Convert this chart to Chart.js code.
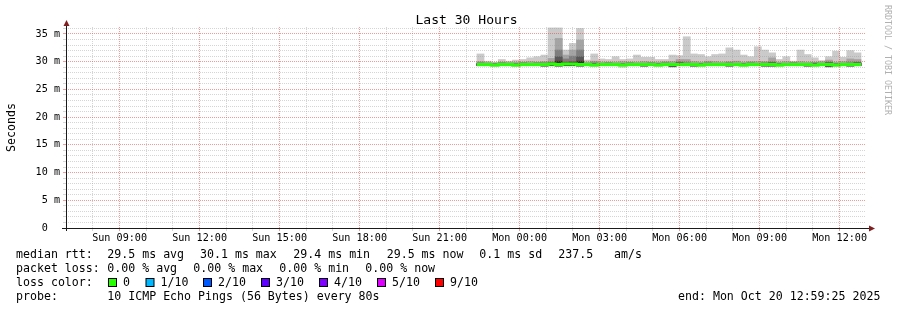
<!DOCTYPE html>
<html><head><meta charset="utf-8">
<style>html,body{margin:0;padding:0;background:#fff;}#wrap{width:897px;height:310px;position:relative;}</style>
<script src="https://cdn.jsdelivr.net/npm/chart.js@4.4.1/dist/chart.umd.min.js"></script>
</head><body><div id="wrap"><canvas id="c" width="897" height="310"></canvas></div>
<script>
// ---- time axis (hours since Sun 00:00) ----
const START_HOUR = 6.990278;   // Sun 06:59:25
const END_HOUR = 36.990278;    // Mon 12:59:25
const FIRST_BUCKET = 22.40;    // first sample bucket start
const BUCKET_HOURS = 0.2667;   // 16 min consolidation step

const xTickHours = [9, 12, 15, 18, 21, 24, 27, 30, 33, 36];
const xTickLabels = ['Sun 09:00','Sun 12:00','Sun 15:00','Sun 18:00','Sun 21:00','Mon 00:00','Mon 03:00','Mon 06:00','Mon 09:00','Mon 12:00'];
const yTickValues = [0, 5, 10, 15, 20, 25, 30, 35];
const yTickLabels = ['0  ','5 m','10 m','15 m','20 m','25 m','30 m','35 m'];

// ---- series (milliseconds) ----
const median = [29.5,29.5,29.4,29.5,29.5,29.4,29.5,29.5,29.5,29.5,
 29.6,29.5,29.6,29.6,29.5,29.5,29.4,29.5,29.5,29.5,
 29.4,29.5,29.5,29.5,29.5,29.4,29.5,29.5,29.5,29.5,
 29.5,29.4,29.5,29.5,29.5,29.5,29.5,29.4,29.5,29.5,
 29.5,29.5,29.4,29.5,29.5,29.5,29.5,29.4,29.5,29.5,
 29.4,29.5,29.5,29.5];
const pingMax = [31.4,30.1,29.9,30.4,30.1,30.3,30.4,30.7,30.9,31.2,
 36.1,36.1,32.1,33.3,36.0,30.3,31.4,30.5,30.4,30.9,
 30.4,30.5,31.2,30.8,30.8,30.4,30.4,31.2,31.1,34.5,
 31.4,31.3,30.9,31.3,31.4,32.5,32.1,31.2,30.9,32.7,
 32.1,31.6,30.4,30.9,30.1,32.1,31.3,30.7,30.2,30.9,
 31.9,30.8,32.0,31.6];
const ping9 = [30.0,29.9,29.8,29.9,29.9,29.9,29.9,30.0,29.9,30.0,
 30.6,34.2,31.2,32.1,33.9,29.9,30.1,29.9,29.9,29.9,
 30.0,29.9,29.9,30.0,29.9,29.9,30.0,30.0,30.4,30.4,
 30.0,29.9,30.1,30.0,29.9,30.0,30.1,29.9,30.0,30.0,
 30.0,30.7,29.9,30.0,29.9,30.0,29.9,29.9,30.0,30.3,
 29.9,30.0,30.5,30.4];
const ping8 = [29.8,29.7,29.7,29.8,29.7,29.7,29.8,29.7,29.8,29.8,
 29.9,32.1,30.5,31.0,32.1,29.7,29.8,29.7,29.8,29.7,
 29.7,29.8,29.7,29.7,29.8,29.7,29.8,29.7,29.9,29.8,
 29.7,29.7,29.8,29.7,29.7,29.8,29.7,29.7,29.8,29.7,
 29.8,29.9,29.7,29.7,29.8,29.7,29.7,29.8,29.7,29.9,
 29.7,29.7,29.8,29.9];
const ping7 = [29.7,29.6,29.6,29.7,29.6,29.6,29.7,29.6,29.7,29.7,
 29.8,30.9,29.9,30.0,30.9,29.6,29.7,29.6,29.7,29.6,
 29.6,29.7,29.6,29.6,29.7,29.6,29.7,29.6,29.8,29.7,
 29.6,29.6,29.7,29.6,29.6,29.7,29.6,29.6,29.7,29.6,
 29.7,29.8,29.6,29.6,29.7,29.6,29.6,29.7,29.6,29.8,
 29.6,29.6,29.7,29.8];
const ping6 = [29.6,29.5,29.5,29.6,29.5,29.5,29.6,29.5,29.6,29.6,
 29.7,30.1,29.7,29.8,30.1,29.5,29.6,29.5,29.6,29.5,
 29.5,29.6,29.5,29.5,29.6,29.5,29.6,29.5,29.7,29.6,
 29.5,29.5,29.6,29.5,29.5,29.6,29.5,29.5,29.6,29.5,
 29.6,29.7,29.5,29.5,29.6,29.5,29.5,29.6,29.5,29.7,
 29.5,29.5,29.6,29.7];
const pingLow = [29.3,29.3,29.3,29.3,29.3,29.35,29.3,29.3,29.3,29.25,
 29.3,29.25,29.3,29.3,29.25,29.3,29.3,29.3,29.3,29.3,
 29.3,29.3,29.3,29.25,29.3,29.35,29.3,29.2,29.3,29.3,
 29.25,29.3,29.3,29.3,29.3,29.25,29.3,29.3,29.3,29.3,
 29.25,29.25,29.3,29.3,29.3,29.3,29.25,29.35,29.3,29.2,
 29.3,29.3,29.25,29.3];
const pingMin = [29.2,29.2,29.1,29.2,29.2,29.1,29.2,29.2,29.2,29.1,
 29.2,29.1,29.2,29.2,29.1,29.2,29.1,29.2,29.2,29.2,
 29.0,29.2,29.2,29.1,29.2,29.1,29.2,29.0,29.2,29.2,
 29.1,29.1,29.2,29.2,29.2,29.1,29.2,29.1,29.2,29.2,
 29.1,29.1,29.1,29.2,29.2,29.2,29.1,29.1,29.2,29.0,
 29.1,29.2,29.1,29.2];

const bucketCenters = median.map((_, i) => FIRST_BUCKET + (i + 0.5) * BUCKET_HOURS);

// ---- legend texts ----
const legendLine1 = [['median rtt:',16],['29.5 ms avg',107.3],['30.1 ms max',200],['29.4 ms min',293.3],['29.5 ms now',386.7],['0.1 ms sd',479.3],['237.5',558.3],['am/s',614]];
const legendLine2 = [['packet loss:',16],['0.00 % avg',107.3],['0.00 % max',193.3],['0.00 % min',279.3],['0.00 % now',365.3]];
const lossLabels = ['0','1/10','2/10','3/10','4/10','5/10','9/10'];
const lossColors = ['#26ff00','#00b8ff','#0059ff','#5e00ff','#7e00ff','#dd00ff','#ff0000'];
const lossBoxX = [108.5,146,203.5,261.5,319.5,377.5,435.5];
const legendLine4 = [['probe:',16],['10 ICMP Echo Pings (56 Bytes) every 80s',107.3],['end: Mon Oct 20 12:59:25 2025',678]];

function layer(lo, hi, color, order) {
  return {
    type: 'bar', order: order, grouped: false,
    data: bucketCenters.map((x, i) => ({x: x, y: [lo[i], hi[i]]})),
    backgroundColor: color, borderWidth: 0,
    barPercentage: 1.0, categoryPercentage: 1.0
  };
}

const medianPts = [];
median.forEach((m, i) => {
  medianPts.push({x: FIRST_BUCKET + i * BUCKET_HOURS, y: m});
  medianPts.push({x: FIRST_BUCKET + (i + 1) * BUCKET_HOURS, y: m});
});

const GRID_MINOR = 'rgba(150,150,150,0.4)';
const GRID_MAJOR = 'rgba(235,50,50,0.5)';
const MONO = '"DejaVu Sans Mono", monospace';

const overlay = {
  id: 'overlay',
  afterDraw(chart) {
    const ctx = chart.ctx, a = chart.chartArea;
    ctx.save();
    // axes
    ctx.strokeStyle = '#1a1a1a'; ctx.lineWidth = 1;
    ctx.beginPath();
    ctx.moveTo(a.left + 0.5, a.bottom + 3); ctx.lineTo(a.left + 0.5, a.top - 2);
    ctx.moveTo(a.left - 4, a.bottom + 0.5); ctx.lineTo(a.right + 3, a.bottom + 0.5);
    ctx.stroke();
    ctx.fillStyle = '#7f1f1f';
    ctx.beginPath();
    ctx.moveTo(a.left + 0.5, a.top - 7); ctx.lineTo(a.left - 2.5, a.top - 1); ctx.lineTo(a.left + 3.5, a.top - 1);
    ctx.closePath(); ctx.fill();
    ctx.beginPath();
    ctx.moveTo(a.right + 9, a.bottom + 0.5); ctx.lineTo(a.right + 3, a.bottom - 2.5); ctx.lineTo(a.right + 3, a.bottom + 3.5);
    ctx.closePath(); ctx.fill();

    // title
    ctx.fillStyle = '#000';
    ctx.font = '13.05px ' + MONO;
    ctx.textAlign = 'center'; ctx.textBaseline = 'alphabetic';
    ctx.fillText('Last 30 Hours', (a.left + a.right) / 2 + 0.5, 24);

    // vertical label
    ctx.save();
    ctx.translate(15, (a.top + a.bottom) / 2);
    ctx.rotate(-Math.PI / 2);
    ctx.font = '11.6px ' + MONO;
    ctx.textAlign = 'center';
    ctx.fillText('Seconds', 0, 0);
    ctx.restore();

    // watermark
    ctx.save();
    ctx.translate(884.5, 5);
    ctx.rotate(Math.PI / 2);
    ctx.font = '8.3px ' + MONO;
    ctx.fillStyle = '#b0b0b0';
    ctx.textAlign = 'left'; ctx.textBaseline = 'alphabetic';
    ctx.fillText('RRDTOOL / TOBI OETIKER', 0, 0);
    ctx.restore();

    // legend
    ctx.font = '11.6px ' + MONO;
    ctx.fillStyle = '#000';
    ctx.textAlign = 'left'; ctx.textBaseline = 'alphabetic';
    legendLine1.forEach(([t, x]) => ctx.fillText(t, x, 258));
    legendLine2.forEach(([t, x]) => ctx.fillText(t, x, 272));
    ctx.fillText('loss color:', 16, 286);
    lossLabels.forEach((t, i) => {
      const bx = lossBoxX[i];
      ctx.fillStyle = lossColors[i];
      ctx.fillRect(bx, 278.5, 8, 8);
      ctx.strokeStyle = '#000'; ctx.lineWidth = 1;
      ctx.strokeRect(bx, 278.5, 8, 8);
      ctx.fillStyle = '#000';
      ctx.fillText(t, bx + 14.5, 286);
    });
    legendLine4.forEach(([t, x]) => ctx.fillText(t, x, 300));
    ctx.restore();
  }
};

const hourTicks = [];
for (let h = 7; h <= 36; h++) hourTicks.push(h);
const yTicks = [];
for (let v = 0; v <= 36; v++) yTicks.push(v);

new Chart(document.getElementById('c'), {
  type: 'bar',
  data: {
    datasets: [
      {
        type: 'line', order: 0, data: medianPts,
        borderColor: '#26ff00', borderWidth: 3, pointRadius: 0,
        fill: false, tension: 0, borderCapStyle: 'butt', borderJoinStyle: 'miter'
      },
      layer(pingLow, ping6, '#323232', 1),
      layer(pingLow, ping7, '#585858', 2),
      layer(pingLow, ping8, '#7e7e7e', 3),
      layer(pingLow, ping9, '#a4a4a4', 4),
      layer(pingMin, pingMax, '#cacaca', 5)
    ]
  },
  options: {
    responsive: false, animation: false, devicePixelRatio: 1,
    layout: {padding: {top: 27, right: 31, left: 0, bottom: 0}},
    plugins: {legend: {display: false}, tooltip: {enabled: false}, title: {display: false}},
    datasets: {bar: {grouped: false}},
    scales: {
      x: {
        type: 'linear', min: START_HOUR, max: END_HOUR, offset: false,
        afterBuildTicks: s => { s.ticks = hourTicks.map(v => ({value: v})); },
        afterFit: s => { s.height = 82; },
        grid: {
          offset: false, z: 1, lineWidth: 1, tickLength: 3,
          color: c => (c.tick && xTickHours.includes(c.tick.value)) ? GRID_MAJOR : GRID_MINOR,
          tickColor: c => (c.tick && xTickHours.includes(c.tick.value)) ? GRID_MAJOR : GRID_MINOR
        },
        border: {display: false, dash: [1, 1]},
        ticks: {
          autoSkip: false, maxRotation: 0, minRotation: 0, padding: 1,
          color: '#000', font: {family: MONO, size: 10.15},
          callback: v => { const i = xTickHours.indexOf(v); return i >= 0 ? xTickLabels[i] : ''; }
        }
      },
      y: {
        type: 'linear', min: 0, max: 36.26,
        afterBuildTicks: s => { s.ticks = yTicks.map(v => ({value: v})); },
        afterFit: s => { s.width = 66; },
        grid: {
          z: 1, lineWidth: 1, tickLength: 3,
          color: c => (c.tick && yTickValues.includes(c.tick.value)) ? GRID_MAJOR : GRID_MINOR,
          tickColor: c => (c.tick && yTickValues.includes(c.tick.value)) ? GRID_MAJOR : GRID_MINOR
        },
        border: {display: false, dash: [1, 1]},
        ticks: {
          autoSkip: false, padding: 3, color: '#000', font: {family: MONO, size: 10.15},
          callback: v => { const i = yTickValues.indexOf(v); return i >= 0 ? yTickLabels[i] : ''; }
        }
      }
    }
  },
  plugins: [overlay]
});
</script></body></html>
